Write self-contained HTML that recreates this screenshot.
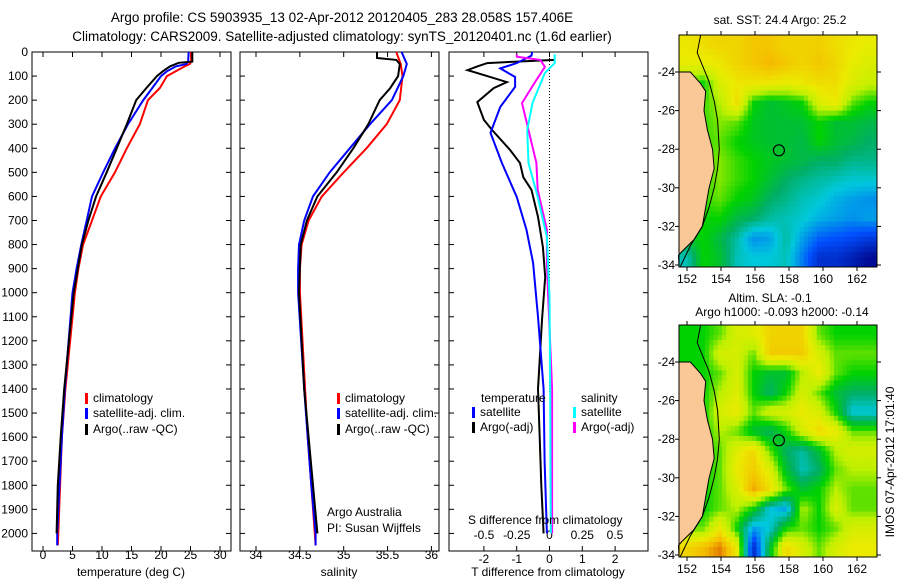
<!DOCTYPE html>
<html><head><meta charset="utf-8"><style>
html,body{margin:0;padding:0;background:#fff;}
svg{display:block;font-family:"Liberation Sans",sans-serif;}
</style></head><body>
<svg id="fig" width="900" height="580" viewBox="0 0 900 580" xmlns="http://www.w3.org/2000/svg">
<g id="titles" font-size="13.5" text-anchor="middle">
<text x="342" y="22">Argo profile: CS 5903935_13 02-Apr-2012 20120405_283 28.058S 157.406E</text>
<text x="342" y="41">Climatology: CARS2009. Satellite-adjusted climatology: synTS_20120401.nc (1.6d earlier)</text>
</g>
<g id="layer"></g>
</svg>
<script>
// ---------- data ----------
const depthTicks = [0,100,200,300,400,500,600,700,800,900,1000,1100,1200,1300,1400,1500,1600,1700,1800,1900,2000];
const tempTicks = [0,5,10,15,20,25,30];
const salTicks = [34,34.5,35,35.5,36];
const salTickLabels = ["34","34.5","35","35.5","36"];
const tdTicks = [-2,-1,0,1,2];
const sdTicks = [-0.5,-0.25,0,0.25,0.5];
const sdTickLabels = ["-0.5","-0.25","0","0.25","0.5"];

const tDepth = [0,40,50,60,80,100,150,200,300,400,500,600,700,800,900,1000,1400,1600,1800,2000,2050];
const tClim  = [25.1,25.1,24.9,24.0,22.5,21.0,19.8,17.8,16.4,14.2,12.2,9.8,8.3,6.8,6.0,5.4,3.8,3.2,2.9,2.6,2.5];
const tSat   = [24.7,24.6,24.3,22.5,21.0,20.0,18.5,17.0,14.4,12.2,10.2,8.3,7.4,6.5,5.7,5.0,3.7,3.2,2.8,2.4,2.4];
const aDepth = [0,40,45,60,80,100,150,200,300,400,500,600,700,800,1000,1400,1600,1800,2000];
const tArgo  = [25.3,25.3,23.0,21.5,20.3,19.3,17.5,15.8,14.2,12.5,10.8,9.0,7.7,6.6,5.2,3.6,3.0,2.5,2.3];

const sDepth = [0,50,100,200,300,400,500,600,700,800,900,1000,1400,1600,1800,2000,2050];
const sClim  = [35.60,35.65,35.67,35.64,35.49,35.26,35.0,34.75,34.6,34.52,34.5,34.5,34.56,34.59,34.63,34.67,34.68];
const sSat   = [35.66,35.72,35.68,35.55,35.30,35.07,34.84,34.65,34.55,34.49,34.48,34.48,34.55,34.59,34.63,34.68,34.68];
const saDepth = [0,25,33,50,100,150,200,300,400,500,600,700,800,1000,1400,1600,1800,2000];
const sArgo  = [35.38,35.38,35.6,35.64,35.62,35.53,35.41,35.28,35.11,34.92,34.7,34.58,34.51,34.49,34.55,34.6,34.65,34.7];

const dtArgoDepth = [33,40,46,60,75,100,125,150,208,282,324,407,461,520,573,685,810,935,1113,1400,1600,1800,2000];
const dtArgo = [0.17,-1.0,-1.9,-2.2,-2.5,-1.9,-1.3,-1.7,-2.2,-2.0,-1.75,-1.2,-0.9,-0.8,-0.55,-0.35,-0.2,-0.13,-0.23,-0.35,-0.3,-0.25,-0.18];
const dtSatDepth = [0,15,46,68,104,145,228,336,461,602,739,876,1100,1400,1700,2000];
const dtSat = [-0.53,-0.55,-1.0,-1.5,-1.05,-1.05,-1.5,-1.8,-1.45,-1.0,-0.7,-0.5,-0.35,-0.18,-0.15,-0.08];
const dsArgoDepth = [10,20,33,62,116,212,324,461,573,739,876,1017,1400,2000];
const dsArgo = [-0.25,-0.25,-0.07,-0.035,-0.1,-0.21,-0.16,-0.1,-0.09,-0.02,-0.02,-0.01,0.02,0.02];
const dsSatDepth = [10,46,87,212,324,461,602,768,1017,1400,2000];
const dsSat = [0.04,0.04,-0.035,-0.13,-0.17,-0.16,-0.09,-0.02,0.0,0.005,0.01];

const mapLonTicks = [152,154,156,158,160,162];
const mapLatTicks = [-24,-26,-28,-30,-32,-34];
const sstGrid = [
[0.76,0.78,0.8,0.8,0.83,0.83,0.8,0.8,0.81,0.78,0.76,0.74],
[0.74,0.74,0.76,0.8,0.83,0.86,0.83,0.8,0.83,0.8,0.74,0.71],
[0.6,0.55,0.71,0.76,0.76,0.76,0.74,0.76,0.78,0.78,0.71,0.67],
[0.6,0.58,0.65,0.78,0.55,0.5,0.52,0.55,0.71,0.76,0.6,0.55],
[0.6,0.58,0.62,0.6,0.52,0.5,0.5,0.5,0.55,0.5,0.5,0.48],
[0.6,0.58,0.6,0.55,0.52,0.5,0.5,0.48,0.55,0.5,0.48,0.45],
[0.6,0.58,0.62,0.58,0.55,0.52,0.5,0.48,0.45,0.45,0.42,0.42],
[0.6,0.58,0.62,0.58,0.55,0.5,0.45,0.42,0.4,0.38,0.36,0.36],
[0.6,0.58,0.6,0.55,0.52,0.45,0.42,0.38,0.36,0.32,0.3,0.28],
[0.6,0.55,0.55,0.48,0.45,0.4,0.38,0.36,0.32,0.3,0.28,0.3],
[0.5,0.55,0.48,0.4,0.28,0.3,0.4,0.3,0.22,0.2,0.18,0.15],
[0.38,0.55,0.5,0.38,0.35,0.35,0.38,0.25,0.12,0.12,0.08,0.03]];
const slaGrid = [
[0.55,0.55,0.6,0.7,0.72,0.8,0.8,0.8,0.6,0.55,0.55,0.55],
[0.55,0.55,0.7,0.7,0.6,0.82,0.82,0.82,0.7,0.6,0.6,0.6],
[0.55,0.55,0.6,0.7,0.55,0.5,0.5,0.65,0.75,0.6,0.55,0.55],
[0.55,0.55,0.65,0.72,0.55,0.45,0.55,0.7,0.6,0.5,0.45,0.45],
[0.55,0.55,0.7,0.75,0.6,0.7,0.7,0.75,0.7,0.55,0.35,0.35],
[0.55,0.55,0.65,0.6,0.5,0.45,0.55,0.7,0.8,0.75,0.6,0.6],
[0.55,0.55,0.6,0.72,0.8,0.6,0.45,0.4,0.5,0.65,0.7,0.7],
[0.55,0.55,0.6,0.75,0.82,0.72,0.5,0.38,0.45,0.6,0.65,0.65],
[0.55,0.55,0.6,0.7,0.88,0.78,0.6,0.5,0.55,0.65,0.6,0.6],
[0.55,0.55,0.6,0.65,0.55,0.35,0.3,0.65,0.55,0.7,0.6,0.6],
[0.6,0.6,0.75,0.55,0.3,0.35,0.55,0.6,0.55,0.6,0.7,0.7],
[0.8,0.85,0.92,0.75,0.1,0.5,0.8,0.7,0.6,0.7,0.75,0.75]];
const coastLon = [151.5,152.2,152.8,153.1,153.0,153.2,153.5,153.6,153.3,153.1,152.9,152.4,151.7,151.5];
const coastLat = [-24,-24,-24.6,-25,-26,-27,-28,-29,-30,-31,-32,-32.7,-33.3,-33.5];
const shelfLon = [152.8,152.6,153.3,153.6,153.8,153.9,153.8,153.6,153.3,152.9,152.2,151.6];
const shelfLat = [-22.1,-23.0,-24.5,-25.5,-26.5,-28,-29,-30,-31,-32,-33,-34.1];
const argoLon = 157.406, argoLat = -28.058;

// ---------- helpers ----------
const NS = "http://www.w3.org/2000/svg";
const layer = document.getElementById('layer');
function mk(tag, attrs, parent){ const e=document.createElementNS(NS,tag); for(const k in attrs) e.setAttribute(k,attrs[k]); (parent||layer).appendChild(e); return e; }
function txt(x,y,s,anchor,parent,size){ const t=mk('text',{x:x,y:y,'font-size':size||12,'text-anchor':anchor||'start'},parent); t.textContent=s; return t; }

const PT=52, PB=551;
const yD = d => PT + d*0.2407;

function panel(name, x0, x1){
  const g=mk('g',{});
  
  
  mk('rect',{x:x0,y:PT,width:x1-x0,height:PB-PT,fill:'none',stroke:'#000','stroke-width':1},g);
  depthTicks.forEach(d=>{ const y=yD(d);
    mk('line',{x1:x0,x2:x0+5,y1:y,y2:y,stroke:'#000'},g);
    mk('line',{x1:x1-5,x2:x1,y1:y,y2:y,stroke:'#000'},g);
  });
  return g;
}
function xTicks(g, vals, labels, fx, ly){
  vals.forEach((v,i)=>{ const x=fx(v);
    mk('line',{x1:x,x2:x,y1:PT,y2:PT+5,stroke:'#000'},g);
    mk('line',{x1:x,x2:x,y1:PB-5,y2:PB,stroke:'#000'},g);
    const t=txt(x,ly,labels[i],'middle',g);
    
    
  });
}
function line(g, xs, ds, fx, color, name){
  const pts=xs.map((v,i)=>fx(v).toFixed(1)+','+yD(ds[i]).toFixed(1)).join(' ');
  const p=mk('polyline',{points:pts,fill:'none',stroke:color,'stroke-width':2},g);
  
  
}
function legend(g,x,y,color,label){
  mk('rect',{x:x,y:y-9,width:3,height:11,fill:color},g);
  const t=txt(x+8,y,label,'start',g);
  
  
}

// y labels
const yl=mk('g',{});


depthTicks.forEach(d=>{ txt(28,yD(d)+4,String(d),'end',yl); });

// panel 1: temperature
const fT = v => 43 + v*5.9;
const g1=panel('temperature-panel',32,231);
xTicks(g1,tempTicks,tempTicks.map(String),fT,559);
line(g1,tClim,tDepth,fT,'#ff0000','temp-climatology-line');
line(g1,tSat,tDepth,fT,'#0000ff','temp-satellite-line');
line(g1,tArgo,aDepth,fT,'#000000','temp-argo-line');
legend(g1,85,402,'#ff0000','climatology');
legend(g1,85,417,'#0000ff','satellite-adj. clim.');
legend(g1,85,433,'#000000','Argo(..raw -QC)');
const xl1=txt(131,576,'temperature (deg C)','middle',g1);
 

// panel 2: salinity
const fS = v => 256 + (v-34)*87.7;
const g2=panel('salinity-panel',240,439);
xTicks(g2,salTicks,salTickLabels,fS,559);
line(g2,sClim,sDepth,fS,'#ff0000','sal-climatology-line');
line(g2,sSat,sDepth,fS,'#0000ff','sal-satellite-line');
line(g2,sArgo,saDepth,fS,'#000000','sal-argo-line');
legend(g2,337,402,'#ff0000','climatology');
legend(g2,337,417,'#0000ff','satellite-adj. clim.');
legend(g2,337,433,'#000000','Argo(..raw -QC)');
txt(327,516,'Argo Australia','start',g2);
txt(327,532,'PI: Susan Wijffels','start',g2);
const xl2=txt(339,576,'salinity','middle',g2);
 

// panel 3: differences
const fDT = v => 549.5 + v*32.8;
const fDS = v => 549.5 + v*131;
const g3=panel('difference-panel',449,648);
mk('line',{x1:549.5,x2:549.5,y1:PT,y2:yD(1420),stroke:'#000','stroke-dasharray':'1,2'},g3);
xTicks(g3,tdTicks,tdTicks.map(String),fDT,563);
sdTicks.forEach((v,i)=>{ const t=txt(fDS(v),539,sdTickLabels[i],'middle',g3);
    });
line(g3,dtArgo,dtArgoDepth,fDT,'#000000','tdiff-argo-line');
line(g3,dtSat,dtSatDepth,fDT,'#0000ff','tdiff-satellite-line');
line(g3,dsArgo,dsArgoDepth,fDS,'#ff00ff','sdiff-argo-line');
line(g3,dsSat,dsSatDepth,fDS,'#00ffff','sdiff-satellite-line');
txt(481,402,'temperature','start',g3);
txt(581,402,'salinity','start',g3);
legend(g3,472,416,'#0000ff','satellite');
legend(g3,472,431,'#000000','Argo(-adj)');
legend(g3,573,416,'#00ffff','satellite');
legend(g3,573,431,'#ff00ff','Argo(-adj)');
txt(468,524,'S difference from climatology','start',g3);
const xl3=txt(548,576,'T difference from climatology','middle',g3);
 

// ---------- maps ----------
const cStops=[[0,[0,0,130]],[0.2,[0,80,255]],[0.35,[0,200,220]],[0.45,[0,175,100]],[0.55,[0,210,0]],[0.65,[190,240,0]],[0.75,[235,235,0]],[0.85,[245,190,0]],[0.93,[225,120,0]],[1,[190,80,0]]];
function cmap(v){ for(let i=1;i<cStops.length;i++){ if(v<=cStops[i][0]){ const a=cStops[i-1],b=cStops[i],t=(v-a[0])/(b[0]-a[0]);
  return 'rgb('+a[1].map((c,k)=>Math.round(c+(b[1][k]-c)*t)).join(',')+')'; } } return 'rgb(190,80,0)'; }
function sample(grid,r,c){ const R=grid.length,C=grid[0].length;
  r=Math.max(0,Math.min(R-1,r)); c=Math.max(0,Math.min(C-1,c));
  const r0=Math.floor(r),c0=Math.floor(c),r1=Math.min(R-1,r0+1),c1=Math.min(C-1,c0+1),fr=r-r0,fc=c-c0;
  return grid[r0][c0]*(1-fr)*(1-fc)+grid[r0][c1]*(1-fr)*fc+grid[r1][c0]*fr*(1-fc)+grid[r1][c1]*fr*fc; }

function drawMap(name, grid, top, titles){
  const L=679,R=877,T=top,B=top+232;
  const fx = lon => 687 + (lon-152)*17;
  const fy = lat => T + 37 + (-24-lat)*19.3;
  const g=mk('g',{});
  
  
  const N=46, M=46, cw=(R-L)/N, ch=(B-T)/M;
  for(let i=0;i<M;i++) for(let j=0;j<N;j++){
    const v=sample(grid,(i+0.5)/M*grid.length-0.5,(j+0.5)/N*grid[0].length-0.5);
    mk('rect',{x:(L+j*cw).toFixed(2),y:(T+i*ch).toFixed(2),width:(cw+0.4).toFixed(2),height:(ch+0.4).toFixed(2),fill:cmap(v)},g);
  }
  const land=mk('polygon',{points:coastLon.map((lo,i)=>fx(lo).toFixed(1)+','+fy(coastLat[i]).toFixed(1)).join(' ')+' '+L+','+B+' '+L+','+fy(-24).toFixed(1),fill:'#fac896',stroke:'#000','stroke-width':1},g);
   
  mk('polyline',{points:shelfLon.map((lo,i)=>fx(lo).toFixed(1)+','+fy(shelfLat[i]).toFixed(1)).join(' '),fill:'none',stroke:'#000','stroke-width':1},g);
  const c=mk('circle',{cx:fx(argoLon),cy:fy(argoLat),r:5.5,fill:'none',stroke:'#000','stroke-width':1.2},g);
   
  mk('rect',{x:L,y:T,width:R-L,height:B-T,fill:'none',stroke:'#000','stroke-width':1},g);
  mapLonTicks.forEach(lo=>{ const x=fx(lo);
    mk('line',{x1:x,x2:x,y1:T,y2:T-4,stroke:'#000'},g); mk('line',{x1:x,x2:x,y1:B,y2:B+4,stroke:'#000'},g);
    txt(x,B+16,String(lo),'middle',g); });
  mapLatTicks.forEach(la=>{ const y=fy(la);
    mk('line',{x1:L,x2:L-4,y1:y,y2:y,stroke:'#000'},g); mk('line',{x1:R,x2:R+4,y1:y,y2:y,stroke:'#000'},g);
    txt(L-4,y+4,String(la),'end',g); });
  titles.forEach(t=>{ const e=txt(t[0],t[1],t[2],'middle',g);   });
}
drawMap('sst-map', sstGrid, 35, [[780,24,'sat. SST: 24.4 Argo: 25.2']]);
drawMap('sla-map', slaGrid, 325, [[770,302,'Altim. SLA: -0.1'],[782,316,'Argo h1000: -0.093 h2000: -0.14']]);

const stamp=txt(0,0,'IMOS 07-Apr-2012 17:01:40','middle');
stamp.setAttribute('transform','translate(894,462) rotate(-90)');


</script>
</body></html>
